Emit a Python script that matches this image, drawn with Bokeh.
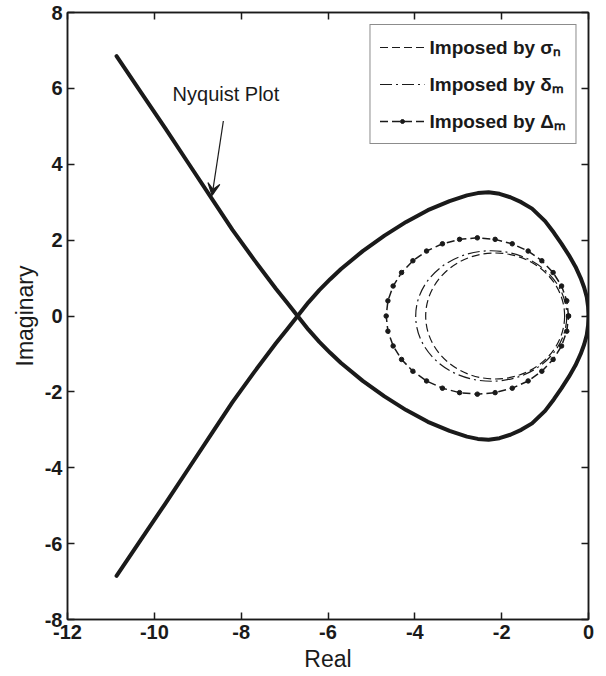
from bokeh.plotting import figure
from bokeh.models import Range1d, LinearAxis, Legend, LegendItem, Arrow, VeeHead, Label, FixedTicker
from bokeh.embed import file_html
from bokeh.resources import INLINE

# ---------------- data ----------------
x_ticks = [-12, -10, -8, -6, -4, -2, 0]
y_ticks = [-8, -6, -4, -2, 0, 2, 4, 6, 8]

# Nyquist plot, positive-frequency branch (the other branch is its complex conjugate)
nyq_re = [0.0, -0.01, -0.04, -0.1, -0.18, -0.3, -0.45, -0.62, -0.8, -1.0, -1.3, -1.55,
          -1.8, -2.05, -2.3, -2.55, -2.8, -3.2, -3.7, -4.2, -4.7, -5.2, -5.7, -5.95,
          -6.2, -6.45, -6.7, -6.95, -7.2, -7.7, -8.2, -8.65, -9.2, -9.75, -10.3, -10.87]
nyq_im = [0.0, 0.25, 0.5, 0.75, 1.0, 1.3, 1.6, 1.9, 2.2, 2.5, 2.83, 3.0,
          3.13, 3.22, 3.26, 3.24, 3.18, 3.03, 2.79, 2.48, 2.12, 1.71, 1.24, 0.97,
          0.68, 0.36, 0.0, -0.36, -0.72, -1.48, -2.27, -3.05, -4.0, -4.95, -5.88, -6.85]
nyq_im_conj = [-v for v in nyq_im]

# Regions imposed by sigma_n and delta_m (centre, half-width on real axis, half-height on imaginary axis)
sigma_c, sigma_a, sigma_b = -2.15, 1.60, 1.66
delta_c, delta_a, delta_b = -2.24, 1.74, 1.72

# Region imposed by Delta_m (sampled points)
Dm_re = [-0.46, -0.50, -0.62, -0.815, -1.075, -1.39, -1.756, -2.15, -2.56, -2.97, -3.364,
         -3.73, -4.045, -4.305, -4.50, -4.62, -4.66, -4.62, -4.50, -4.305, -4.045, -3.73,
         -3.364, -2.97, -2.56, -2.15, -1.756, -1.39, -1.075, -0.815, -0.62, -0.50, -0.46]
Dm_im = [0.0, 0.40, 0.79, 1.145, 1.456, 1.712, 1.903, 2.02, 2.06, 2.02, 1.903,
         1.712, 1.456, 1.145, 0.79, 0.40, 0.0, -0.40, -0.79, -1.145, -1.456, -1.712,
         -1.903, -2.02, -2.06, -2.02, -1.903, -1.712, -1.456, -1.145, -0.79, -0.40, 0.0]

legend_labels = ["Imposed by σₙ", "Imposed by δₘ", "Imposed by Δₘ"]

# annotation
note_text = "Nyquist Plot"
note_pos = (-9.58, 5.85)
arrow_from = (-8.41, 5.14)
arrow_to = (-8.67, 3.18)

FONT = "Liberation Sans"
INK = "#1a1a1a"
NAN = float("nan")

p = figure(width=606, height=676, x_range=Range1d(-12, 0), y_range=Range1d(-8, 8),
           output_backend="svg", toolbar_location=None,
           min_border_left=67, min_border_right=18, min_border_top=12, min_border_bottom=57)
p.grid.visible = False
p.outline_line_color = INK
p.outline_line_width = 1.5
p.background_fill_color = "white"
p.border_fill_color = "white"

p.add_layout(LinearAxis(), "above")
p.add_layout(LinearAxis(), "right")

for ax in p.xaxis:
    ax.ticker = FixedTicker(ticks=x_ticks)
    ax.major_label_overrides = {t: str(t) for t in x_ticks}
for ax in p.yaxis:
    ax.ticker = FixedTicker(ticks=y_ticks)
    ax.major_label_overrides = {t: str(t) for t in y_ticks}
for ax in p.axis:
    ax.major_tick_in = 7
    ax.major_tick_out = 0
    ax.minor_tick_line_color = None
    ax.axis_line_color = INK
    ax.axis_line_width = 1.5
    ax.major_tick_line_color = INK
    ax.major_tick_line_width = 1.5
    ax.major_label_text_font = FONT
    ax.major_label_text_font_style = "bold"
    ax.major_label_text_font_size = "20px"
    ax.major_label_text_color = INK
    ax.major_label_standoff = 5
    ax.axis_label_text_font = FONT
    ax.axis_label_text_font_style = "normal"
    ax.axis_label_text_font_size = "23px"
    ax.axis_label_text_color = INK
    ax.axis_label_standoff = 4

for ax in (p.above[0], p.right[0]):
    ax.major_label_text_font_size = "1px"
    ax.major_label_text_color = None
    ax.major_label_standoff = 0
p.below[0].axis_label = "Real"
p.left[0].axis_label = "Imaginary"

# Nyquist curve
p.line(nyq_re, nyq_im, line_color=INK, line_width=4, line_join="round", line_cap="round")
p.line(nyq_re, nyq_im_conj, line_color=INK, line_width=4, line_join="round", line_cap="round")

# sigma_n region (dashed)
p.ellipse(x=[sigma_c], y=[0], width=[2 * sigma_a], height=[2 * sigma_b],
          fill_color=None, line_color=INK, line_width=1.2, line_dash="8 4")
# delta_m region (dash-dot)
p.ellipse(x=[delta_c], y=[0], width=[2 * delta_a], height=[2 * delta_b],
          fill_color=None, line_color=INK, line_width=1.2, line_dash="12 4 2 4")
# Delta_m region (dashed with point markers)
dm_line = p.line(Dm_re, Dm_im, line_color=INK, line_width=1.5, line_dash="8 4")
dm_pts = p.scatter(Dm_re, Dm_im, marker="circle", size=4.5, fill_color=INK, line_color=INK)

# legend proxies (line samples for the two ellipses)
sig_leg = p.line([NAN], [NAN], line_color=INK, line_width=1.2, line_dash="8 4")
del_leg = p.line([NAN], [NAN], line_color=INK, line_width=1.2, line_dash="12 4 2 4")

legend = Legend(items=[
    LegendItem(label=legend_labels[0], renderers=[sig_leg]),
    LegendItem(label=legend_labels[1], renderers=[del_leg]),
    LegendItem(label=legend_labels[2], renderers=[dm_line, dm_pts]),
], location="top_right")
legend.margin = 12
legend.padding = 9
legend.spacing = 11
legend.glyph_width = 45
legend.glyph_height = 10
legend.label_height = 24
legend.label_standoff = 5
legend.label_text_font = FONT
legend.label_text_font_style = "bold"
legend.label_text_font_size = "19px"
legend.label_text_color = INK
legend.border_line_color = INK
legend.border_line_width = 1.5
legend.background_fill_color = "white"
legend.background_fill_alpha = 1.0
p.add_layout(legend, "center")

# annotation
p.add_layout(Arrow(end=VeeHead(size=12, line_color=INK, line_width=1.2, fill_color=INK),
                   x_start=arrow_from[0], y_start=arrow_from[1],
                   x_end=arrow_to[0], y_end=arrow_to[1],
                   line_color=INK, line_width=1.2))
p.add_layout(Label(x=note_pos[0], y=note_pos[1], text=note_text, text_font=FONT,
                   text_font_size="20px", text_color=INK, text_baseline="middle"))

open("out.html", "w").write(file_html(p, INLINE))
